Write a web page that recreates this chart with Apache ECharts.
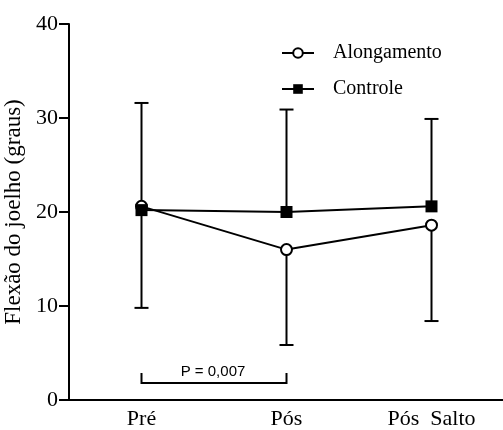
<!DOCTYPE html>
<html><head><meta charset="utf-8">
<script src="https://cdn.jsdelivr.net/npm/echarts@6/dist/echarts.min.js"></script>
<style>html,body{margin:0;padding:0;background:#fff}#c{width:503px;height:430px}</style>
</head><body><div id="c"></div>
<script>
var categories = ['Pré', 'Pós', 'Pós  Salto'];
var yTicks = [0, 10, 20, 30, 40];
var alongamento = [20.6, 16.0, 18.6];
var alongamentoLow = [9.8, 5.85, 8.4];
var controle = [20.2, 20.0, 20.6];
var controleHigh = [31.6, 30.9, 29.9];
var pLabel = 'P = 0,007';
var bracketFrom = 0, bracketTo = 1;

var chart = echarts.init(document.getElementById('c'));
var serif = '"Liberation Serif", "Times New Roman", serif';

var errData = [];
for (var i = 0; i < categories.length; i++) {
  errData.push([i, controle[i], controleHigh[i]]);
  errData.push([i, alongamento[i], alongamentoLow[i]]);
}

chart.setOption({
  animation: false,
  backgroundColor: '#fff',
  grid: {left: 69, top: 24, width: 435, height: 376, containLabel: false, outerBoundsMode: 'none'},
  legend: {
    orient: 'vertical', left: 276, top: 38, itemWidth: 32, itemHeight: 12, itemGap: 16,
    data: ['Alongamento', 'Controle'],
    textStyle: {fontFamily: serif, fontSize: 20, color: '#000', padding: [0, 0, 0, 14]}
  },
  xAxis: {
    type: 'category', data: categories, boundaryGap: true,
    axisLine: {lineStyle: {color: '#000', width: 2}},
    axisTick: {alignWithLabel: true, length: 7, lineStyle: {color: '#000', width: 2}},
    axisLabel: {fontFamily: serif, fontSize: 22, color: '#000', margin: 8}
  },
  yAxis: {
    type: 'value', min: yTicks[0], max: yTicks[yTicks.length - 1], interval: 10,
    name: 'Flexão do joelho (graus)', nameLocation: 'middle', nameGap: 39,
    nameTextStyle: {fontFamily: serif, fontSize: 23, color: '#000'},
    axisLine: {show: true, lineStyle: {color: '#000', width: 2}},
    axisTick: {show: true, length: 10, lineStyle: {color: '#000', width: 2}},
    axisLabel: {fontFamily: serif, fontSize: 22, color: '#000', margin: 11},
    splitLine: {show: false}
  },
  series: [
    {
      type: 'custom', name: 'err', z: 1, silent: true,
      data: errData,
      renderItem: function (params, api) {
        var x = api.value(0);
        var a = api.coord([x, api.value(1)]);
        var b = api.coord([x, api.value(2)]);
        var w = 7;
        return {type: 'group', children: [
          {type: 'line', shape: {x1: a[0], y1: a[1], x2: b[0], y2: b[1]}, style: {stroke: '#000', lineWidth: 2}},
          {type: 'line', shape: {x1: b[0] - w, y1: b[1], x2: b[0] + w, y2: b[1]}, style: {stroke: '#000', lineWidth: 2}}
        ]};
      }
    },
    {
      type: 'custom', name: 'bracket', z: 1, silent: true,
      data: [[bracketFrom, bracketTo]],
      renderItem: function (params, api) {
        var p0 = api.coord([api.value(0), 0]);
        var p1 = api.coord([api.value(1), 0]);
        var y = p0[1] - 17, yt = p0[1] - 27;
        return {type: 'group', children: [
          {type: 'polyline', shape: {points: [[p0[0], yt], [p0[0], y], [p1[0], y], [p1[0], yt]]}, style: {stroke: '#000', lineWidth: 2, fill: null}},
          {type: 'text', style: {text: pLabel, x: (p0[0] + p1[0]) / 2 - 1, y: yt - 1, align: 'center', verticalAlign: 'middle', fontFamily: '"Liberation Sans", Arial, sans-serif', fontSize: 15, fill: '#000'}}
        ]};
      }
    },
    {
      type: 'line', name: 'Alongamento', data: alongamento, z: 3,
      symbol: 'circle', symbolSize: 11,
      lineStyle: {color: '#000', width: 2},
      itemStyle: {color: '#fff', borderColor: '#000', borderWidth: 2}
    },
    {
      type: 'line', name: 'Controle', data: controle, z: 4,
      symbol: 'rect', symbolSize: 12,
      lineStyle: {color: '#000', width: 2},
      itemStyle: {color: '#000', borderColor: '#000', borderWidth: 0}
    }
  ]
});
</script></body></html>
